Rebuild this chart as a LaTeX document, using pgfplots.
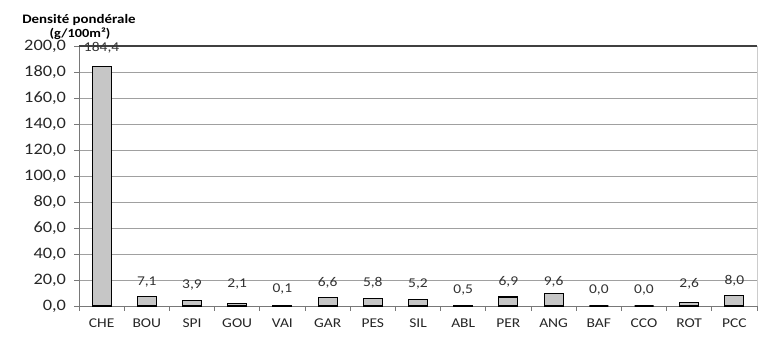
\documentclass[border=0pt]{standalone}
\usepackage{pgfplots}
\pgfplotsset{compat=1.18}
\usepackage{fontspec}
\setmainfont{Carlito}[FakeStretch=1.15]
\definecolor{barfill}{RGB}{198,198,198}
\definecolor{gridc}{RGB}{160,160,160}
\definecolor{axisc}{RGB}{120,120,120}
\begin{document}
\begin{tikzpicture}[x=1bp,y=1bp]
\begin{axis}[
  at={(0,0)}, anchor=south west,
  scale only axis,
  width=678bp, height=260bp,
  xmin=-0.5, xmax=14.5,
  ymin=0, ymax=200,
  xtick={-0.5,0.5,...,14.5},
  xticklabels={},
  extra x ticks={0,...,14},
  extra x tick labels={CHE,BOU,SPI,GOU,VAI,GAR,PES,SIL,ABL,PER,ANG,BAF,CCO,ROT,PCC},
  extra x tick style={major tick length=0pt,
    xticklabel style={font=\fontsize{13.5}{13.5}\selectfont, text=black!85, yshift=-9bp}},
  ytick={0,20,...,200},
  tick align=outside,
  tick pos=left,
  major tick length=4.5bp,
  tick style={draw=axisc, line width=0.8pt},
  ymajorgrids,
  grid style={gridc, line width=0.8pt},
  axis line style={axisc, line width=0.8pt},
  axis x line*=bottom,
  axis y line*=left,
  /pgf/number format/.cd, fixed, fixed zerofill, precision=1, use comma, assume math mode=true,
  /pgfplots/.cd,
  yticklabel style={font=\fontsize{16}{16}\selectfont, text=black!85, xshift=-5bp},
  clip=false,
]
\draw[black!75, line width=1.4pt] (axis cs:-0.5,200) -- (axis cs:14.5,200);
\draw[black!20, line width=0.6pt] (axis cs:14.5,0) -- (axis cs:14.5,200);
\addplot[ybar, bar width=19bp, fill=barfill, draw=black, line width=1.1pt] coordinates {
  (0,184.4) (1,7.1) (2,3.9) (3,2.1) (4,0.1) (5,6.6) (6,5.8) (7,5.2)
  (8,0.5) (9,6.9) (10,9.6) (11,0.0) (12,0.0) (13,2.6) (14,8.0)
};
\addplot[draw=none, mark=none, nodes near coords, point meta=explicit,
  every node near coord/.append style={anchor=center, font=\fontsize{13.5}{13.5}\selectfont, text=black!80}]
  table[x=x, y=y, meta=v] {
x y v
0 198.5 184.4
1 18.5 7.1
2 16.2 3.9
3 16.9 2.1
4 13.1 0.1
5 17.7 6.6
6 18.2 5.8
7 16.9 5.2
8 12.3 0.5
9 18.5 6.9
10 18.5 9.6
11 12.3 0.0
12 12.3 0.0
13 16.9 2.6
14 19.2 8.0
};
\end{axis}
\node[font=\bfseries\fontsize{13}{13}\selectfont, align=center, inner sep=0pt] at (0,286) {Densité pondérale};
\node[font=\bfseries\fontsize{12.5}{12.5}\selectfont, align=center, inner sep=0pt] at (1,272) {(g/100m²)};
\pgfresetboundingbox
\path[use as bounding box] (-79,-32) rectangle (681,306);
\end{tikzpicture}
\end{document}
